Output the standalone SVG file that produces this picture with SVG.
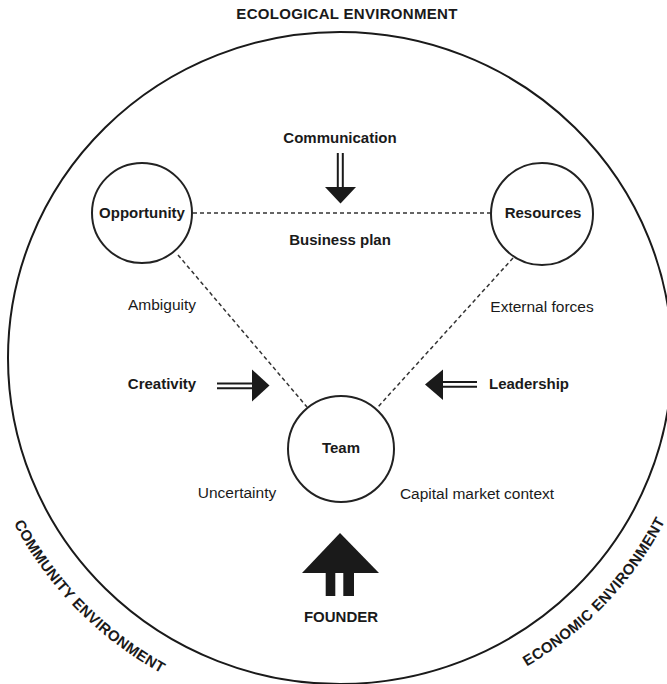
<svg xmlns="http://www.w3.org/2000/svg" width="667" height="684" viewBox="0 0 667 684">
<style>
text{font-family:"Liberation Sans",Arial,sans-serif;fill:#1a1a1a;text-anchor:middle}
.b{font-weight:bold;font-size:15px}
.r{font-size:15.5px}
.env{font-weight:bold;font-size:15px;letter-spacing:0.3px}
.node{fill:#fff;stroke:#222;stroke-width:2}
.dash{stroke:#333;stroke-width:1.5;stroke-dasharray:4 3;fill:none}
.dl{stroke:#1a1a1a;stroke-width:2;fill:none}
.head{fill:#1a1a1a}
</style>
<defs>
<path id="arcL" d="M -16.1 445.3 A 367 361 0 0 0 238.8 705"/>
<path id="arcR" d="M 446.7 701.3 A 365 359 0 0 0 695.6 438.8"/>
</defs>
<rect width="667" height="684" fill="#fff"/>
<ellipse cx="340" cy="358" rx="332" ry="326" fill="none" stroke="#1a1a1a" stroke-width="2"/>
<text class="env" x="347" y="19">ECOLOGICAL ENVIRONMENT</text>
<text class="env"><textPath href="#arcL" startOffset="50%">COMMUNITY ENVIRONMENT</textPath></text>
<text class="env"><textPath href="#arcR" startOffset="50%">ECONOMIC ENVIRONMENT</textPath></text>
<g id="connectors">
<line class="dash" x1="193" y1="213" x2="491" y2="213"/>
<line class="dash" x1="178" y1="255" x2="307" y2="407"/>
<line class="dash" x1="513" y1="258" x2="377" y2="408"/>
</g>
<g id="opportunity">
<circle class="node" cx="142" cy="213" r="50"/>
<text class="b" x="142" y="218">Opportunity</text>
</g>
<g id="resources">
<circle class="node" cx="542" cy="214" r="51"/>
<text class="b" x="543" y="218">Resources</text>
</g>
<g id="team">
<circle class="node" cx="341" cy="449" r="53"/>
<text class="b" x="341" y="453">Team</text>
</g>
<g id="communication">
<text class="b" x="340" y="143">Communication</text>
<line class="dl" x1="337.8" y1="153" x2="337.8" y2="188"/>
<line class="dl" x1="342.8" y1="153" x2="342.8" y2="188"/>
<polygon class="head" points="325,187 356,187 340.5,203.5"/>
</g>
<text class="b" x="340" y="245">Business plan</text>
<text class="r" x="162" y="310">Ambiguity</text>
<text class="r" x="542" y="312">External forces</text>
<g id="creativity">
<text class="b" x="162" y="389">Creativity</text>
<line class="dl" x1="217" y1="383.5" x2="253" y2="383.5"/>
<line class="dl" x1="217" y1="388.3" x2="253" y2="388.3"/>
<polygon class="head" points="252,369.5 252,401.5 269.5,385.5"/>
</g>
<g id="leadership">
<text class="b" x="529" y="389">Leadership</text>
<line class="dl" x1="442" y1="382" x2="477" y2="382"/>
<line class="dl" x1="442" y1="386.7" x2="477" y2="386.7"/>
<polygon class="head" points="443,369.5 443,400 425,384.5"/>
</g>
<text class="r" x="237" y="498">Uncertainty</text>
<text class="r" x="477" y="499">Capital market context</text>
<g id="founder">
<polygon class="head" points="340,533 379,573 302,573"/>
<rect class="head" x="325.7" y="572" width="9.6" height="24"/>
<rect class="head" x="343.3" y="572" width="10.7" height="24"/>
<text class="b" x="341" y="622">FOUNDER</text>
</g>
</svg>
